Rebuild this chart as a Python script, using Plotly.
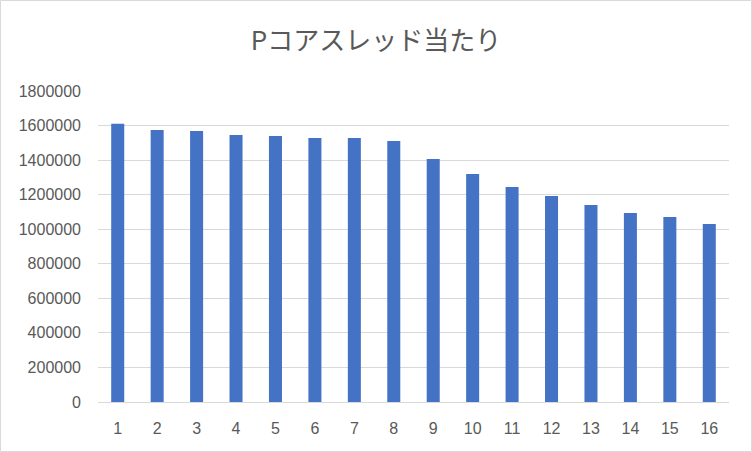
"""Bar chart: per P-core thread score."""

import plotly.graph_objects as go

THREADS = [str(n) for n in range(1, 17)]
SCORES = [
    1610000, 1574000, 1568000, 1545000, 1539000, 1528000, 1528000, 1510000,
    1406000, 1319000, 1244000, 1192000, 1140000, 1094000, 1071000, 1030000,
]
Y_TICKS = list(range(0, 1800001, 200000))

TEXT_GRAY = "#595959"
GRID_GRAY = "#d9d9d9"
BAR_BLUE = "#4472c4"

# plot area in pixels: x 98..729, y 91..402
W, H = 752, 452
L, R, T, B = 98, 23, 91, 50
PW, PH = W - L - R, H - T - B

fig = go.Figure()
fig.add_trace(
    go.Bar(
        x=THREADS,
        y=SCORES,
        marker={"color": BAR_BLUE, "line": {"width": 0}},
        hoverinfo="x+y",
    )
)

fig.update_layout(
    width=W,
    height=H,
    margin={"l": L, "r": R, "t": T, "b": B, "pad": 0},
    paper_bgcolor="white",
    plot_bgcolor="white",
    bargap=0.67,
    showlegend=False,
    title={
        "text": "Pコアスレッド当たり",
        "x": 0.5,
        "xanchor": "center",
        "y": 1 - 41 / H,
        "yanchor": "middle",
        "font": {"family": "Noto Sans CJK JP", "size": 26, "color": TEXT_GRAY},
    },
    font={"family": "Liberation Sans", "size": 16, "color": TEXT_GRAY},
    xaxis={
        "type": "category",
        "showgrid": False,
        "showline": True,
        "linecolor": GRID_GRAY,
        "linewidth": 1,
        "ticks": "",
        "ticklabelstandoff": 12,
        "tickfont": {"size": 16, "color": TEXT_GRAY},
    },
    yaxis={
        "range": [0, 1800000],
        "tickvals": Y_TICKS,
        "ticktext": [str(v) for v in Y_TICKS],
        "showgrid": True,
        "gridcolor": GRID_GRAY,
        "gridwidth": 1,
        "zeroline": False,
        "showline": False,
        "ticks": "",
        "ticklabelstandoff": 16,
        "tickfont": {"size": 16, "color": TEXT_GRAY},
    },
)

# light frame around the whole chart, like the spreadsheet chart box
fig.add_shape(
    type="rect",
    xref="paper",
    yref="paper",
    x0=(0.5 - L) / PW,
    x1=(W - 0.5 - L) / PW,
    y0=(T + PH - (H - 0.5)) / PH,
    y1=(T + PH - 0.5) / PH,
    line={"color": GRID_GRAY, "width": 1},
    fillcolor="rgba(0,0,0,0)",
    layer="below",
)

# the page body has a default 8px margin; drop it so the chart fills the window
fig.write_html(
    "out.html",
    config={"displayModeBar": False},
    post_script="document.body.style.margin = '0';",
)
